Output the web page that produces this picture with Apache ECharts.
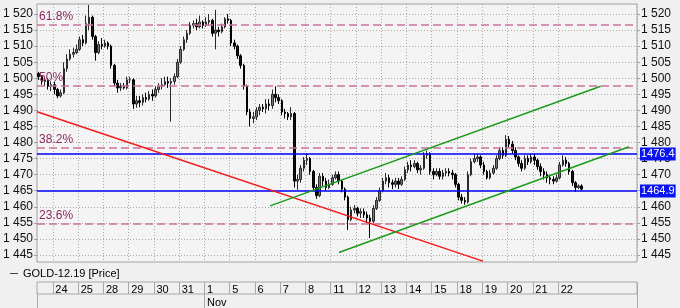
<!DOCTYPE html>
<html><head><meta charset="utf-8">
<script src="https://cdn.jsdelivr.net/npm/echarts@6/dist/echarts.min.js"></script>
<style>html,body{margin:0;padding:0;background:#f0f0f0}#c{width:680px;height:308px}</style>
</head><body><div id="c"></div>
<script>
// ---- data ----
const seriesName = 'GOLD-12.19 [Price]';
const dayLabels = ['24','25','28','29','30','31','1','5','6','7','8','11','12','13','14','15','18','19','20','21','22'];
const monthLabels = ['Nov'];
const monthDayIndex = [6];
const slotsPerDay = 8;
const firstDaySlots = 5;
const totalSlots = 190;
const yTicks = [1445,1450,1455,1460,1465,1470,1475,1480,1485,1490,1495,1500,1505,1510,1515,1520];
const yMin = 1442.82, yMax = 1523.11;

const opens = [
1501.5,1500.5,1499,1499.5,1497.5,1498,1496.5,1494.5,1495.5,1503,
1506,1507.5,1508,1509,1512,1511,1517,1519,1513,1508,
1510.5,1510,1511,1510,1504,1498.5,1497,1497.5,1497,1499.5,
1499.5,1492,1493,1492.5,1494,1493.5,1495,1494.5,1496.5,1497.5,
1498,1499,1498.5,1499,1500.5,1505,1509,1512,1514,1516.5,
1517,1516,1517.5,1516.5,1517.5,1518,1514,1515,1514.5,1516,
1518.5,1518,1511,1510,1507,1504,1497.5,1489.5,1487.5,1488,
1490,1491,1490.5,1492,1491.5,1495,1494,1493,1489.5,1489,
1488,1489,1468,1468.5,1472,1474.5,1475,1471,1466,1463.5,
1469.5,1468,1466,1467,1469,1470,1468,1465.5,1463,1456,
1459,1459.5,1458,1458.5,1457.5,1456.5,1455.5,1459.5,1462,1465,
1468,1469,1467.5,1467,1468,1467,1468.5,1471.5,1473,1472.5,
1473.5,1471.5,1472,1476,1476.5,1471,1470,1471,1469.5,1470.5,
1471,1470.5,1470,1467,1463,1462,1461.5,1470,1474,1475,
1475.5,1473,1471,1469,1470.5,1472,1475,1477.5,1476,1481,
1479.5,1477.5,1475.5,1473.5,1472,1475,1474,1475.5,1474.5,1472.5,
1471,1470,1469,1468.5,1468,1469,1473,1474.5,1473.5,1471,
1467.5,1466,1466.5];
const closes = [
1500.5,1499,1499.5,1497.5,1498,1496.5,1494.5,1495.5,1503,1506,
1507.5,1508,1509,1512,1511,1517,1519,1513,1508,1510.5,
1510,1511,1510,1504,1498.5,1497,1497.5,1497,1499.5,1499.5,
1492,1493,1492.5,1494,1493.5,1495,1494.5,1496.5,1497.5,1498,
1499,1498.5,1499,1500.5,1505,1509,1512,1514,1516.5,1517,
1516,1517.5,1516.5,1517.5,1518,1514,1515,1514.5,1516,1518.5,
1518,1511,1510,1507,1504,1497.5,1489.5,1487.5,1488,1490,
1491,1490.5,1492,1491.5,1495,1494,1493,1489.5,1489,1488,
1489,1468,1468.5,1472,1474.5,1475,1471,1466,1463.5,1469.5,
1468,1466,1467,1469,1470,1468,1465.5,1463,1456,1459,
1459.5,1458,1458.5,1457.5,1456.5,1455.5,1459.5,1462,1465,1468,
1469,1467.5,1467,1468,1467,1468.5,1471.5,1473,1472.5,1473.5,
1471.5,1472,1476,1476.5,1471,1470,1471,1469.5,1470.5,1471,
1470.5,1470,1467,1463,1462,1461.5,1470,1474,1475,1475.5,
1473,1471,1469,1470.5,1472,1475,1477.5,1476,1481,1479.5,
1477.5,1475.5,1473.5,1472,1475,1474,1475.5,1474.5,1472.5,1471,
1470,1469,1468.5,1468,1469,1473,1474.5,1473.5,1471,1467.5,
1466,1466.5,1465.5];
const lows = [
1499.5,1498,1497.5,1496.5,1496,1495,1493.8,1494,1495,1502,
1505.5,1506.5,1507.5,1508.5,1510,1510.5,1515,1512,1505.5,1507.5,
1509,1509.5,1509,1503,1497.5,1495.5,1496,1496.5,1496.5,1498.5,
1490.5,1490.8,1491,1491.5,1492.5,1493,1493,1494,1495.5,1496.5,
1497.5,1497,1486.5,1498,1500,1504.5,1508.5,1511,1513.5,1515.5,
1515,1515.5,1515.5,1516,1516.5,1513,1509,1513,1514,1515.5,
1517,1510,1509,1506,1503,1496.5,1488.5,1485,1486,1487,
1488.5,1489.5,1489,1490,1490.5,1492.5,1492,1488.5,1487.5,1487,
1487,1466,1465.3,1467.5,1471,1473,1470,1465,1462.5,1463,
1466.5,1465,1465.5,1466.5,1468.5,1467,1464.5,1462,1452.8,1455.5,
1458,1457,1456.5,1456.5,1455,1450.3,1455,1459,1461.5,1464.5,
1467,1466,1465.5,1466,1465.5,1466.5,1468,1470.5,1471,1472,
1470.5,1470,1471.5,1475,1470,1468.5,1469.5,1468.5,1468.5,1469.5,
1469.5,1468.5,1466,1462,1461,1460.6,1461,1469.5,1473.5,1474,
1472,1470,1468.5,1468.5,1470,1471.5,1474.5,1475,1475.5,1478.5,
1476.5,1474.5,1472.5,1471,1471.5,1473,1473.5,1473,1471.5,1469.5,
1468.5,1467.5,1467,1467,1467.5,1468.5,1472.5,1472.5,1470,1466.5,
1464.6,1465.5,1465];
const highs = [
1502,1501,1500.5,1500,1499,1499,1497,1496.5,1505,1507.5,
1509,1509.5,1510.5,1513,1513.5,1519.5,1522.8,1519.5,1513.5,1511.5,
1512.5,1512,1511.5,1510.5,1504.5,1499.5,1498.5,1498.5,1500.5,1500.5,
1500,1494.5,1494.5,1495,1495.5,1496,1496.5,1497.5,1498.5,1500,
1500.5,1500.5,1500,1501.5,1506,1510,1513,1515,1517.5,1518,
1518.5,1519.5,1518,1519,1520,1518.5,1521.3,1516,1517,1519,
1520,1518.5,1512,1510.5,1507.5,1504.5,1498,1490.5,1489.5,1491,
1492,1492,1493.5,1493.5,1496.5,1497.5,1495,1493.5,1490.5,1489.5,
1491,1489.5,1470,1473,1475.5,1476.7,1475.5,1471.5,1467,1470.5,
1470.5,1469,1468.5,1470,1471,1471,1468.5,1466,1463.5,1460,
1460.5,1460,1459.5,1459.5,1458.5,1457.5,1460.5,1463,1466,1469,
1470.5,1470,1468.5,1469,1469,1469.5,1472.5,1474,1474.5,1474.5,
1474,1473,1477,1477.5,1477,1472,1472,1472,1471.5,1472,
1472,1471.5,1470.5,1467.5,1464,1463,1471,1475,1476.5,1476.5,
1476,1474,1471.5,1471.5,1473,1476,1478.5,1478.5,1482.3,1482,
1480.5,1478.5,1476,1474.5,1476,1476,1476.5,1476.5,1475,1473.5,
1472,1471,1470,1469.5,1470,1474,1476,1475.5,1474,1471.5,
1468,1467,1467];

const fibLevels = [1516.8, 1497.6, 1478.4, 1454.7];
const fibLabels = ['61.8%', '50%', '38.2%', '23.6%'];
const levelLines = [1476.4, 1464.9];
const lastPrice = [1466.1];
// trend lines: [slot position, price]
const redLine = [[0, 1489.6], [141.2, 1443.1]];
const greenUpper = [[73.8, 1460.3], [178.5, 1497.5]];
const greenLower = [[95.6, 1445.8], [187.5, 1478.7]];

// ---- build ----
const categories = [];
for (let i = 0; i < totalSlots; i++) categories.push('t' + i);
function dayIndexOf(i) {
  if (i < firstDaySlots) return -1;
  if ((i - firstDaySlots) % slotsPerDay !== 0) return -1;
  const k = (i - firstDaySlots) / slotsPerDay;
  return k < dayLabels.length ? k : -1;
}
const isDayStart = (i) => dayIndexOf(i) >= 0;
const monthSlot = (i) => {
  const k = dayIndexOf(i);
  return k >= 0 && monthDayIndex.indexOf(k) >= 0;
};
const candleData = opens.map((o, i) => [o, closes[i], lows[i], highs[i]]);
const fmtY = (v) => { const s = String(v); const p = s.indexOf('.'); const ip = p < 0 ? s : s.slice(0, p); const dp = p < 0 ? '' : s.slice(p); return ip.slice(0, ip.length - 3) + ' ' + ip.slice(-3) + dp; };
const font = 'Liberation Sans';
const gridLine = { color: '#a9a9a9', type: [1, 2], width: 1 };

const markData = [];
lastPrice.forEach((v) => markData.push({
  yAxis: v,
  lineStyle: { opacity: 0 },
  label: { show: true, position: 'end', formatter: fmtY(v), color: '#333', backgroundColor: '#ffffff', borderColor: '#555', borderWidth: 1, padding: [1, 1], fontSize: 11, fontFamily: font, distance: 3 }
}));
fibLevels.forEach((v, i) => markData.push({
  yAxis: v,
  lineStyle: { color: '#c8729c', type: [8, 4], width: 1.5 },
  label: { show: true, position: 'insideStartTop', formatter: fibLabels[i], color: '#8e2a62', fontSize: 12, fontFamily: font, distance: 2 }
}));
levelLines.forEach((v) => markData.push({
  yAxis: v,
  lineStyle: { color: '#0000ff', type: 'solid', width: 1.5 },
  label: { show: true, position: 'end', formatter: v.toFixed(1), color: '#ffffff', backgroundColor: '#0a14f0', padding: [1, 1], fontSize: 11, fontFamily: font, distance: 3 }
}));

const hiddenY = (gi) => ({ gridIndex: gi, type: 'value', min: 0, max: 1, show: false });

const option = {
  backgroundColor: '#f0f0f0',
  animation: false,
  textStyle: { fontFamily: font },
  legend: {
    left: 5, top: 263, icon: 'rect', itemWidth: 8, itemHeight: 1, itemGap: 5, selectedMode: false,
    textStyle: { fontSize: 11, color: '#000', fontFamily: font },
    data: [{ name: seriesName, itemStyle: { color: '#444', borderWidth: 0 } }]
  },
  grid: [
    { left: 37, right: 43, top: 4, height: 258, show: true, backgroundColor: '#f4f4f4', borderColor: '#a0a0a0', borderWidth: 1 },
    { left: 37, right: 43, top: 282, height: 12, show: true, backgroundColor: 'transparent', borderColor: '#a8a8a8', borderWidth: 1 },
    { left: 37, right: 43, top: 294, height: 14, show: false }
  ],
  xAxis: [
    { gridIndex: 0, type: 'category', data: categories, boundaryGap: true,
      axisLine: { show: false }, axisTick: { show: false }, axisLabel: { show: false },
      splitLine: { show: true, interval: (i) => isDayStart(i), lineStyle: gridLine } },
    { gridIndex: 0, type: 'value', min: 0, max: totalSlots, show: false },
    { gridIndex: 1, type: 'category', data: categories, boundaryGap: true, position: 'top',
      axisLine: { show: false }, axisTick: { show: false },
      splitLine: { show: true, interval: (i) => isDayStart(i), lineStyle: { color: '#a8a8a8', width: 1 } },
      axisLabel: { show: true, inside: true, margin: 2, align: 'left', interval: (i) => isDayStart(i),
        formatter: (v, i) => { const k = dayIndexOf(i); return k >= 0 ? dayLabels[k] : ''; },
        color: '#000', fontSize: 11, fontFamily: font, padding: [0, 0, 0, 1] } },
    { gridIndex: 2, type: 'category', data: categories, boundaryGap: true, position: 'top',
      axisLine: { show: false }, axisTick: { show: false },
      splitLine: { show: true, interval: (i) => i === 0 || monthSlot(i), lineStyle: { color: '#a8a8a8', width: 1 } },
      axisLabel: { show: true, inside: true, margin: 3, align: 'left', interval: (i) => monthSlot(i),
        formatter: (v, i) => { const k = dayIndexOf(i); const m = monthDayIndex.indexOf(k); return m >= 0 ? monthLabels[m] : ''; },
        color: '#000', fontSize: 11, fontFamily: font, padding: [0, 0, 0, 1] } }
  ],
  yAxis: [
    { gridIndex: 0, type: 'value', min: yMin, max: yMax, position: 'left', splitNumber: 16,
      axisLine: { show: false },
      axisTick: { show: true, length: 3, customValues: yTicks, lineStyle: { color: '#a0a0a0' } },
      axisLabel: { customValues: yTicks, formatter: fmtY, color: '#111', fontSize: 12, fontFamily: font, margin: 4 },
      splitLine: { show: true, lineStyle: gridLine } },
    { gridIndex: 0, type: 'value', min: yMin, max: yMax, position: 'right', splitNumber: 16,
      axisLine: { show: false },
      axisTick: { show: true, length: 3, customValues: yTicks, lineStyle: { color: '#a0a0a0' } },
      axisLabel: { customValues: yTicks, formatter: fmtY, color: '#111', fontSize: 12, fontFamily: font, margin: 4 },
      splitLine: { show: false } },
    hiddenY(1),
    hiddenY(2)
  ],
  series: [
    { type: 'candlestick', name: seriesName, xAxisIndex: 0, yAxisIndex: 0, data: candleData, barWidth: 2,
      itemStyle: { color: '#777777', color0: '#111', borderColor: '#2a2a2a', borderColor0: '#000', borderWidth: 1 },
      markLine: { silent: true, symbol: 'none', animation: false, data: markData } },
    { type: 'line', xAxisIndex: 1, yAxisIndex: 0, data: redLine, symbol: 'none', silent: true, z: 5,
      lineStyle: { color: '#f21a1a', width: 1.5 } },
    { type: 'line', xAxisIndex: 1, yAxisIndex: 0, data: greenUpper, symbol: 'none', silent: true, z: 5,
      lineStyle: { color: '#1d9a1d', width: 1.5 } },
    { type: 'line', xAxisIndex: 1, yAxisIndex: 0, data: greenLower, symbol: 'none', silent: true, z: 5,
      lineStyle: { color: '#1d9a1d', width: 1.5 } }
  ]
};

const chart = echarts.init(document.getElementById('c'), null, { renderer: 'canvas' });
try {
  chart.setOption(option);
} catch (e) {
  throw new Error(e.message + ' || ' + String(e.stack || '').slice(0, 900));
}
</script></body></html>
